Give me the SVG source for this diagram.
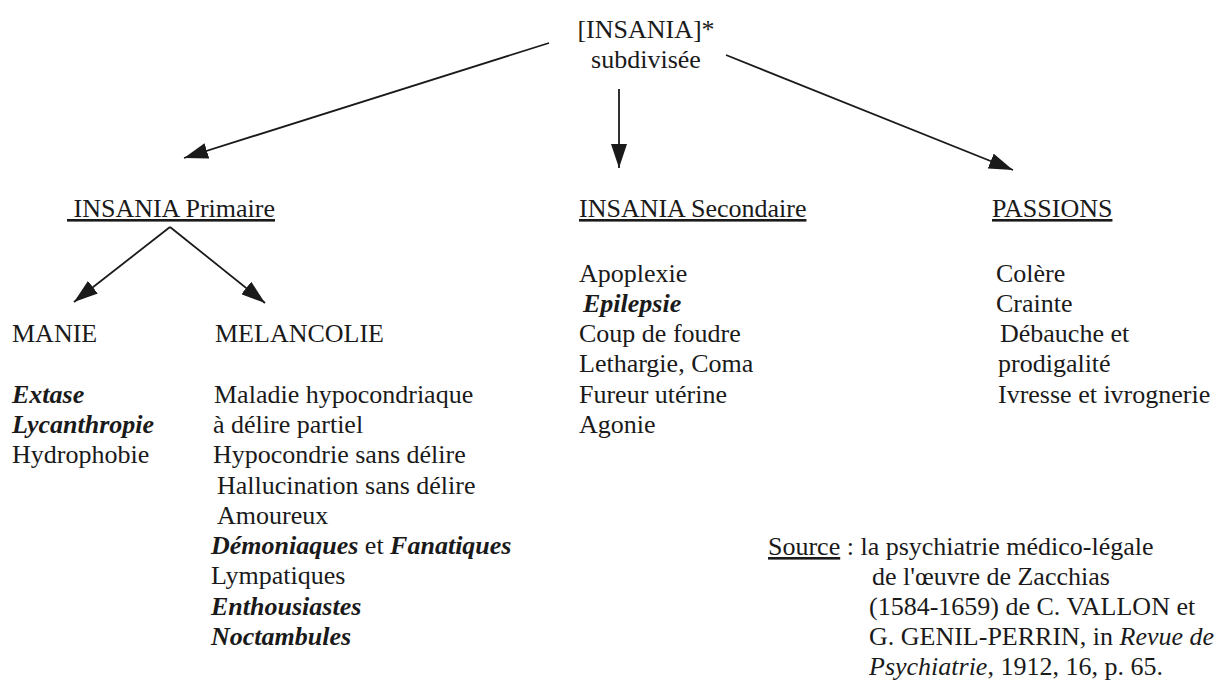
<svg xmlns="http://www.w3.org/2000/svg" width="1227" height="681" viewBox="0 0 1227 681">
<style>
text{font-family:"Liberation Serif","Times New Roman",serif;font-size:26px;fill:#1a1a1a}
.bi{font-weight:bold;font-style:italic}
.it{font-style:italic}
.u{text-decoration:underline}
.ln{stroke:#1a1a1a;stroke-width:1.8;fill:none}
</style>
<defs>
<marker id="ah" viewBox="0 0 24 16" refX="24" refY="8" markerWidth="24" markerHeight="16" markerUnits="userSpaceOnUse" orient="auto">
<path d="M0,0 L24,8 L0,16 z" fill="#1a1a1a"/>
</marker>
</defs>
<g id="connectors">
<line class="ln" x1="549" y1="43" x2="184" y2="158" marker-end="url(#ah)"/>
<line class="ln" x1="619" y1="89" x2="619" y2="168" marker-end="url(#ah)"/>
<line class="ln" x1="726" y1="55" x2="1013" y2="170" marker-end="url(#ah)"/>
<line class="ln" x1="170" y1="227" x2="74" y2="302" marker-end="url(#ah)"/>
<line class="ln" x1="170" y1="227" x2="265" y2="303" marker-end="url(#ah)"/>
</g>
<g id="root">
<text x="646" y="38" text-anchor="middle">[INSANIA]*</text>
<text x="646" y="68" text-anchor="middle">subdivisée</text>
</g>
<g id="primaire">
<text x="67" y="217" class="u" xml:space="preserve"> INSANIA Primaire</text>
</g>
<g id="secondaire">
<text x="579" y="217" class="u">INSANIA Secondaire</text>
<text x="579" y="282">Apoplexie</text>
<text x="583" y="312" class="bi">Epilepsie</text>
<text x="579" y="342">Coup de foudre</text>
<text x="579" y="372">Lethargie, Coma</text>
<text x="579" y="403">Fureur utérine</text>
<text x="579" y="433">Agonie</text>
</g>
<g id="passions">
<text x="992" y="217" class="u">PASSIONS</text>
<text x="996" y="282">Colère</text>
<text x="996" y="312">Crainte</text>
<text x="1000" y="342">Débauche et</text>
<text x="998" y="372">prodigalité</text>
<text x="998" y="403">Ivresse et ivrognerie</text>
</g>
<g id="manie">
<text x="12" y="342">MANIE</text>
<text x="12" y="403" class="bi">Extase</text>
<text x="12" y="433" class="bi">Lycanthropie</text>
<text x="12" y="463">Hydrophobie</text>
</g>
<g id="melancolie">
<text x="215" y="342">MELANCOLIE</text>
<text x="214" y="403">Maladie hypocondriaque</text>
<text x="213" y="433">à délire partiel</text>
<text x="213" y="463">Hypocondrie sans délire</text>
<text x="217" y="494">Hallucination sans délire</text>
<text x="217" y="524">Amoureux</text>
<text x="211" y="554"><tspan class="bi">Démoniaques</tspan> et <tspan class="bi">Fanatiques</tspan></text>
<text x="211" y="584">Lympatiques</text>
<text x="211" y="615" class="bi">Enthousiastes</text>
<text x="211" y="645" class="bi">Noctambules</text>
</g>
<g id="source">
<text x="768" y="555"><tspan class="u">Source</tspan> : la psychiatrie médico-légale</text>
<text x="872" y="585">de l'œuvre de Zacchias</text>
<text x="869" y="615">(1584-1659) de C. VALLON et</text>
<text x="869" y="645">G. GENIL-PERRIN, in <tspan class="it">Revue de</tspan></text>
<text x="869" y="675"><tspan class="it">Psychiatrie</tspan>, 1912, 16, p. 65.</text>
</g>
</svg>
